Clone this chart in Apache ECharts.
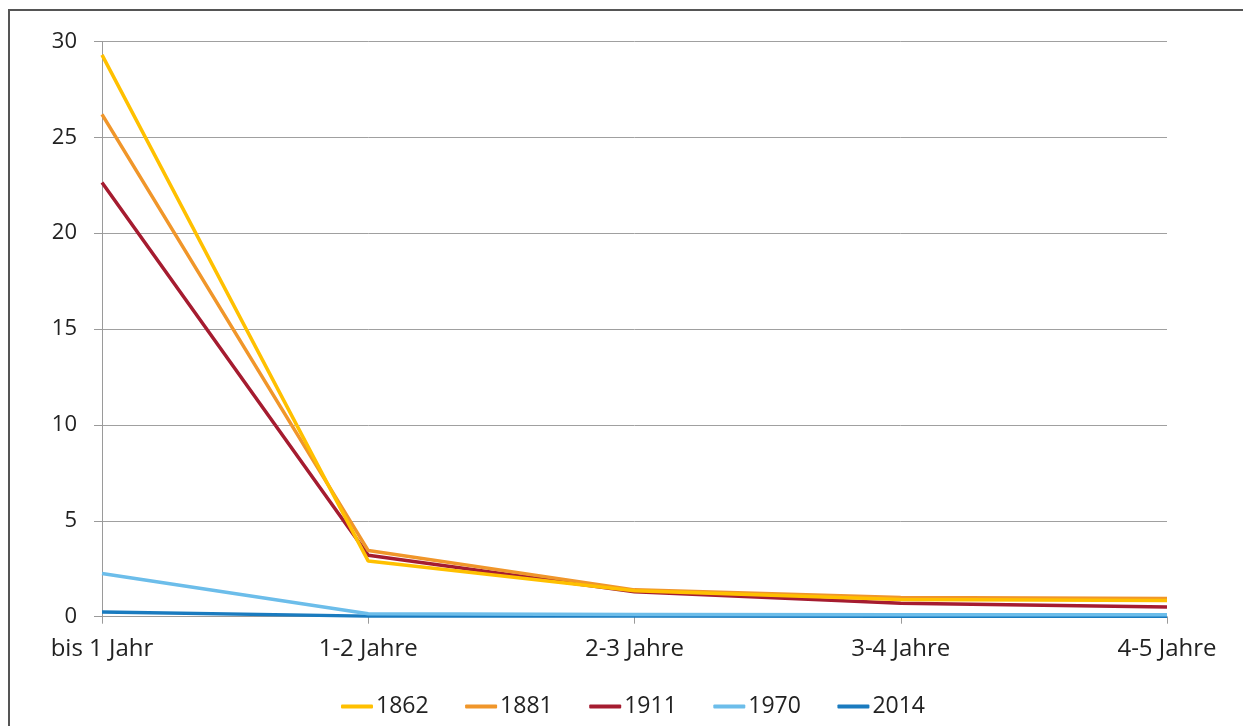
<!DOCTYPE html>
<html><head><meta charset="utf-8">
<script src="https://cdn.jsdelivr.net/npm/echarts@6/dist/echarts.min.js"></script>
<style>html,body{margin:0;padding:0;background:#fff}#c{width:1243px;height:726px}</style>
</head><body><div id="c"></div>
<script>
const categories = ['bis 1 Jahr', '1-2 Jahre', '2-3 Jahre', '3-4 Jahre', '4-5 Jahre'];
const years = ['1862', '1881', '1911', '1970', '2014'];
const v1862 = [29.3, 2.9, 1.35, 0.9, 0.85];
const v1881 = [26.2, 3.45, 1.4, 1.0, 0.95];
const v1911 = [22.65, 3.2, 1.3, 0.7, 0.5];
const v1970 = [2.25, 0.15, 0.12, 0.1, 0.1];
const v2014 = [0.25, 0.03, 0.03, 0.02, 0.02];
const colors = ['#FFC000', '#F0962A', '#A51C30', '#6CBDEA', '#1A7BBF'];
const font = 'Open Sans, sans-serif';
const chart = echarts.init(document.getElementById('c'));
const vals = [v1862, v1881, v1911, v1970, v2014];
chart.setOption({
  animation: false,
  color: colors,
  graphic: [{type: 'rect', shape: {x: 9, y: 10, width: 1250, height: 730}, style: {fill: 'none', stroke: '#555', lineWidth: 2}, z: -1}],
  grid: {left: 102, right: 76, top: 41.5, bottom: 109.3},
  legend: {
    bottom: 3, left: 336, itemWidth: 32, itemHeight: 4, itemGap: 36.5,
    icon: 'roundRect',
    textStyle: {fontFamily: font, fontSize: 23, color: '#222', padding: [0, 0, 0, -2]},
    data: years
  },
  xAxis: {
    type: 'category', data: categories, boundaryGap: false,
    axisLine: {lineStyle: {color: '#9a9a9a', width: 1}},
    axisTick: {show: true, alignWithLabel: true, length: 7, lineStyle: {color: '#9a9a9a'}},
    axisLabel: {fontFamily: font, fontSize: 24, color: '#222', margin: 20}
  },
  yAxis: {
    type: 'value', min: 0, max: 30, interval: 5,
    axisLine: {show: true, lineStyle: {color: '#9a9a9a'}},
    axisTick: {show: true, length: 8, lineStyle: {color: '#9a9a9a'}},
    splitLine: {lineStyle: {color: '#a0a0a0', width: 1}},
    axisLabel: {fontFamily: font, fontSize: 22, color: '#222', margin: 25}
  },
  series: years.map((y, i) => ({
    name: y, type: 'line', data: vals[i], symbol: 'none',
    lineStyle: {width: 3.5, color: colors[i]}, z: 10 - i
  }))
});
</script></body></html>
